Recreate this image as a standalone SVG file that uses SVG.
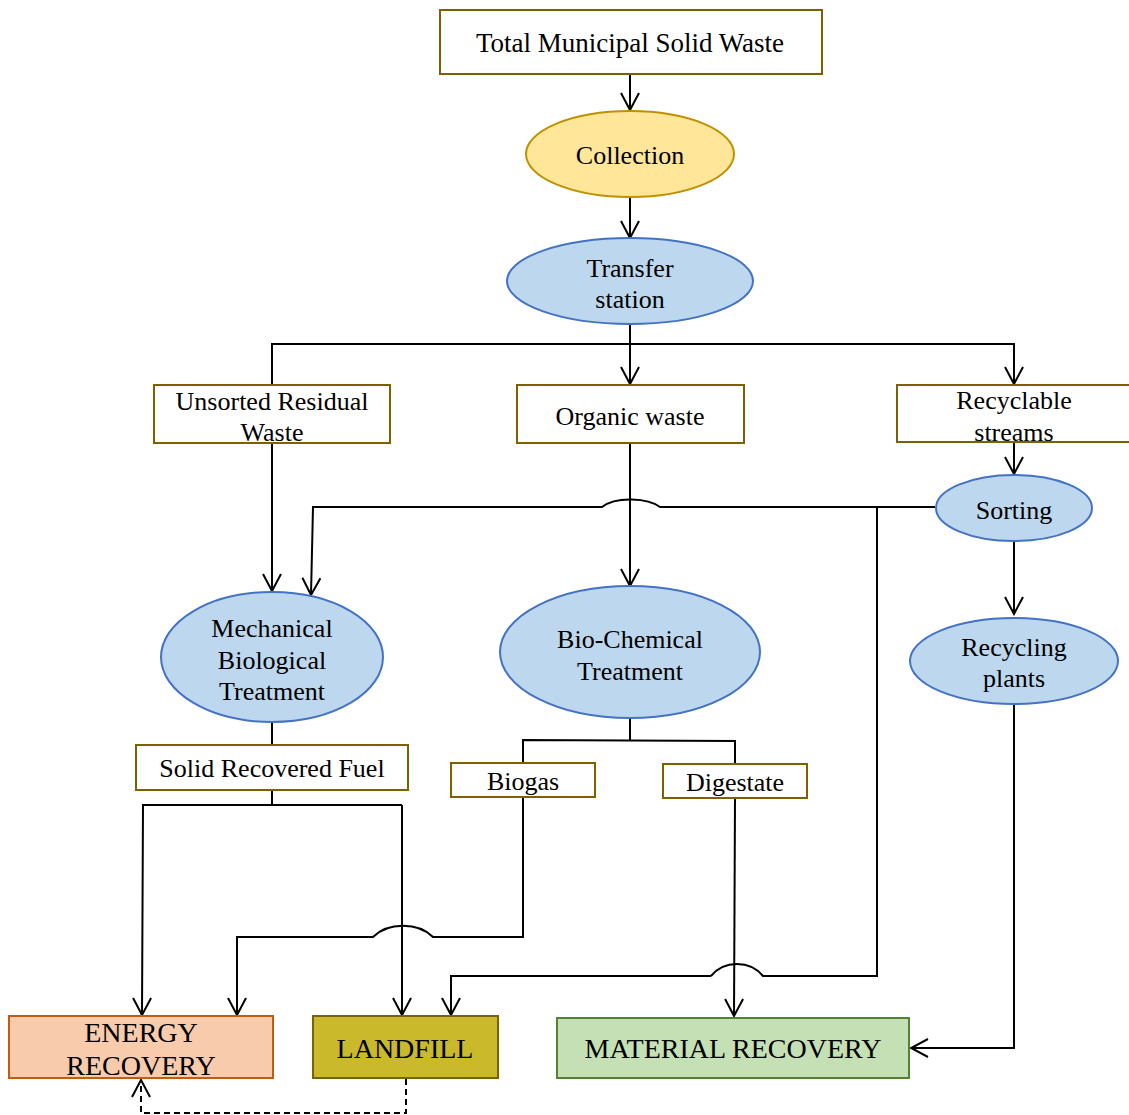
<svg xmlns="http://www.w3.org/2000/svg" width="1129" height="1115" viewBox="0 0 1129 1115">
<style>
  text { font-family: "Liberation Serif", "Times New Roman", serif; font-size: 26px; fill: #000; text-anchor: middle; }
  .big { font-size: 28px; }
  .box { fill: #ffffff; stroke: #7F6000; stroke-width: 2; }
  .yell { fill: #FFE699; stroke: #BF9000; stroke-width: 2; }
  .blue { fill: #BDD7EE; stroke: #4472C4; stroke-width: 2; }
  .energy { fill: #F8CBAD; stroke: #C55A11; stroke-width: 2; }
  .landfill { fill: #C9B92B; stroke: #7F6000; stroke-width: 2; }
  .material { fill: #C5E0B4; stroke: #548235; stroke-width: 2; }
  .c { fill: none; stroke: #000; stroke-width: 2; }
  .a { marker-end: url(#arr); }
  .dash { stroke-dasharray: 6 4; }
</style>
<defs>
  <marker id="arr" viewBox="0 0 20 20" refX="18" refY="10" markerWidth="20" markerHeight="20" markerUnits="userSpaceOnUse" orient="auto">
    <path d="M1,1 L18,10 L1,19" fill="none" stroke="#000" stroke-width="2"/>
  </marker>
</defs>
<rect width="1129" height="1115" fill="#ffffff"/>

<g id="connectors">
  <path class="c a" d="M630,74 L630,110"/>
  <path class="c a" d="M630,197 L630,238"/>
  <path class="c a" d="M630,324 L630,384"/>
  <path class="c a" d="M272,384 L272,344 L1014,344 L1014,384"/>
  <path class="c a" d="M272,443 L272,591"/>
  <path class="c a" d="M630,443 L630,586"/>
  <path class="c a" d="M1014,442 L1014,474"/>
  <path class="c a" d="M935,507 L660,507 C648,498 616,496 602,507 L313,507 L311,595"/>
  <path class="c" d="M877,507 L877,976 L763,976 C750,960 724,960 711,976"/>
  <path class="c a" d="M711,976 L451,976 L451,1015"/>
  <path class="c a" d="M1014,541 L1014,614"/>
  <path class="c a" d="M1014,704 L1014,1048 L911,1048"/>
  <path class="c" d="M272,723 L272,745"/>
  <path class="c" d="M272,790 L272,805"/>
  <path class="c a" d="M402,805 L143,805 L142,1015"/>
  <path class="c a" d="M402,805 L402,1015"/>
  <path class="c" d="M630,718 L630,740"/>
  <path class="c" d="M523,763 L523,740 L735,741 L735,764"/>
  <path class="c a" d="M523,797 L523,937 L433,937 C418,922 388,922 373,937 L237,937 L237,1015"/>
  <path class="c a" d="M735,798 L734,1016"/>
  <path class="c dash a" d="M406,1079 L406,1113 L141,1113 L141,1080"/>
</g>

<g id="total-msw">
  <rect class="box" x="440" y="10" width="382" height="64"/>
  <text x="630" y="52" style="font-size:27px">Total Municipal Solid Waste</text>
</g>
<g id="collection">
  <ellipse class="yell" cx="630" cy="154" rx="104" ry="43"/>
  <text x="630" y="164">Collection</text>
</g>
<g id="transfer-station">
  <ellipse class="blue" cx="630" cy="281" rx="123" ry="43"/>
  <text x="630" y="277">Transfer</text>
  <text x="630" y="308">station</text>
</g>
<g id="unsorted-residual-waste">
  <rect class="box" x="154" y="385" width="236" height="58"/>
  <text x="272" y="410">Unsorted Residual</text>
  <text x="272" y="441">Waste</text>
</g>
<g id="organic-waste">
  <rect class="box" x="517" y="385" width="227" height="58"/>
  <text x="630" y="425">Organic waste</text>
</g>
<g id="recyclable-streams">
  <rect class="box" x="897" y="385" width="240" height="57"/>
  <text x="1014" y="409">Recyclable</text>
  <text x="1014" y="441">streams</text>
</g>
<g id="sorting">
  <ellipse class="blue" cx="1014" cy="508" rx="78" ry="33"/>
  <text x="1014" y="519">Sorting</text>
</g>
<g id="recycling-plants">
  <ellipse class="blue" cx="1014" cy="661" rx="104" ry="43"/>
  <text x="1014" y="656">Recycling</text>
  <text x="1014" y="687">plants</text>
</g>
<g id="mbt">
  <ellipse class="blue" cx="272" cy="657" rx="111" ry="65"/>
  <text x="272" y="637">Mechanical</text>
  <text x="272" y="669">Biological</text>
  <text x="272" y="700">Treatment</text>
</g>
<g id="bio-chemical-treatment">
  <ellipse class="blue" cx="630" cy="652" rx="130" ry="66"/>
  <text x="630" y="648">Bio-Chemical</text>
  <text x="630" y="680">Treatment</text>
</g>
<g id="srf">
  <rect class="box" x="136" y="745" width="272" height="45"/>
  <text x="272" y="777">Solid Recovered Fuel</text>
</g>
<g id="biogas">
  <rect class="box" x="451" y="763" width="144" height="34"/>
  <text x="523" y="790">Biogas</text>
</g>
<g id="digestate">
  <rect class="box" x="663" y="764" width="144" height="34"/>
  <text x="735" y="791">Digestate</text>
</g>
<g id="energy-recovery">
  <rect class="energy" x="9" y="1016" width="264" height="62"/>
  <text class="big" x="141" y="1042">ENERGY</text>
  <text class="big" x="141" y="1075">RECOVERY</text>
</g>
<g id="landfill">
  <rect class="landfill" x="313" y="1016" width="185" height="62"/>
  <text class="big" x="405" y="1058">LANDFILL</text>
</g>
<g id="material-recovery">
  <rect class="material" x="557" y="1018" width="352" height="60"/>
  <text class="big" x="733" y="1058">MATERIAL RECOVERY</text>
</g>
</svg>
